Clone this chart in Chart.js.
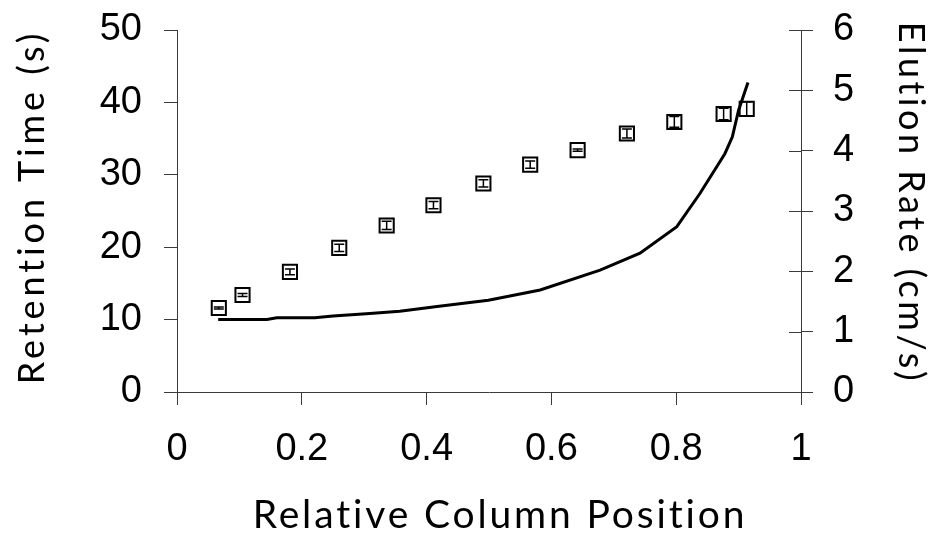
<!DOCTYPE html>
<html>
<head>
<meta charset="utf-8">
<script src="https://cdn.jsdelivr.net/npm/chart.js@4.4.1/dist/chart.umd.min.js"></script>
<style>
  html, body { margin: 0; padding: 0; background: #fff; }
  #wrap { width: 945px; height: 538px; }
</style>
</head>
<body>
<div id="wrap"><canvas id="chart"></canvas></div>
<script>
// retention time measurements (squares with error bars, left axis)
const positions = [0.067, 0.105, 0.181, 0.260, 0.336, 0.411, 0.491, 0.566, 0.642, 0.721, 0.797, 0.876, 0.913];
const retentionTimes = [11.6, 13.4, 16.6, 19.9, 23.0, 25.8, 28.8, 31.4, 33.4, 35.7, 37.3, 38.4, 39.1];
const retentionErrors = [0.15, 0.2, 0.4, 0.5, 0.57, 0.5, 0.5, 0.5, 0.15, 0.62, 0.74, 0.8, 1.0];

// elution rate curve (line, right axis)
const ratePositions = [0.066, 0.144, 0.160, 0.221, 0.250, 0.309, 0.357, 0.420, 0.499, 0.582, 0.678, 0.742, 0.801, 0.838, 0.878, 0.890, 0.900, 0.915];
const elutionRates = [1.20, 1.20, 1.23, 1.23, 1.26, 1.30, 1.34, 1.42, 1.52, 1.69, 2.02, 2.30, 2.74, 3.29, 3.95, 4.23, 4.67, 5.13];

// tick labels
const xTickLabels = ['0', '0.2', '0.4', '0.6', '0.8', '1'];
const leftTickLabels = ['0', '10', '20', '30', '40', '50'];
const rightTickLabels = ['0', '1', '2', '3', '4', '5', '6'];

const xTitle = 'Relative Column Position';
const leftTitle = 'Retention Time (s)';
const rightTitle = 'Elution Rate (cm/s)';

const axisColor = '#3a3a3a';
const tickFont = 'Liberation Sans, Arial, sans-serif';
const titleFont = 'Lato, sans-serif';

// error bars for the squares, inner ticks of the right axis, axis titles
const extras = {
    id: 'extras',
    afterDatasetsDraw(chart) {
        const ctx = chart.ctx;
        const xs = chart.scales.x;
        const ys = chart.scales.y;
        ctx.save();
        ctx.strokeStyle = '#000';
        ctx.lineWidth = 1.5;
        for (let i = 0; i < positions.length; i++) {
            const px = xs.getPixelForValue(positions[i]);
            const top = ys.getPixelForValue(retentionTimes[i] + retentionErrors[i]);
            const bot = ys.getPixelForValue(retentionTimes[i] - retentionErrors[i]);
            ctx.beginPath();
            ctx.moveTo(px, top);
            ctx.lineTo(px, bot);
            ctx.moveTo(px - 5, top);
            ctx.lineTo(px + 5, top);
            ctx.moveTo(px - 5, bot);
            ctx.lineTo(px + 5, bot);
            ctx.stroke();
        }
        ctx.restore();
    },
    afterDraw(chart) {
        const ctx = chart.ctx;
        const area = chart.chartArea;
        const y1 = chart.scales.y1;
        ctx.save();
        ctx.strokeStyle = axisColor;
        ctx.lineWidth = 1;
        y1.ticks.forEach(t => {
            const py = Math.round(y1.getPixelForValue(t.value)) + 0.5;
            ctx.beginPath();
            ctx.moveTo(area.right - 12, py);
            ctx.lineTo(area.right, py);
            ctx.stroke();
        });

        // axis titles: size from cap height, spacing stretched to the target width
        ctx.fillStyle = '#000';
        ctx.textAlign = 'center';
        ctx.textBaseline = 'alphabetic';
        const fit = (text, width, size) => {
            ctx.font = size + 'px ' + titleFont;
            ctx.letterSpacing = '0px';
            const w = ctx.measureText(text).width;
            ctx.letterSpacing = ((width - w) / text.length).toFixed(2) + 'px';
        };
        fit(xTitle, 496, 39);
        ctx.fillText(xTitle, (area.left + area.right) / 2 + 11, area.bottom + 136);

        ctx.save();
        fit(leftTitle, 355, 36);
        ctx.translate(44, (area.top + area.bottom) / 2 - 4);
        ctx.rotate(-Math.PI / 2);
        ctx.fillText(leftTitle, 0, 0);
        ctx.restore();

        ctx.save();
        fit(rightTitle, 363, 36);
        ctx.translate(area.right + 98, (area.top + area.bottom) / 2 - 8);
        ctx.rotate(Math.PI / 2);
        ctx.fillText(rightTitle, 0, 0);
        ctx.restore();
        ctx.restore();
    }
};

// keep the plot area fixed: no extra room for half tick labels
const noScalePad = s => {
    s.paddingTop = 0;
    s.paddingBottom = 0;
    s.paddingLeft = 0;
    s.paddingRight = 0;
};

const squares = positions.map((x, i) => ({ x: x, y: retentionTimes[i] }));
const curve = ratePositions.map((x, i) => ({ x: x, y: elutionRates[i] }));

new Chart(document.getElementById('chart'), {
    type: 'scatter',
    data: {
        datasets: [
            {
                label: 'Retention Time',
                data: squares,
                yAxisID: 'y',
                showLine: false,
                pointStyle: 'rect',
                pointRadius: 10,
                pointBorderWidth: 2,
                borderColor: '#000',
                backgroundColor: 'rgba(255,255,255,0)'
            },
            {
                label: 'Elution Rate',
                data: curve,
                yAxisID: 'y1',
                showLine: true,
                borderColor: '#000',
                borderWidth: 3,
                pointRadius: 0,
                tension: 0
            }
        ]
    },
    options: {
        responsive: true,
        maintainAspectRatio: false,
        animation: false,
        devicePixelRatio: 1,
        layout: { padding: { top: 30, left: 0, right: 0, bottom: 0 } },
        plugins: {
            legend: { display: false },
            tooltip: { enabled: false }
        },
        scales: {
            x: {
                type: 'linear',
                min: 0,
                max: 1,
                ticks: {
                    stepSize: 0.2,
                    padding: 22,
                    color: '#000',
                    font: { family: tickFont, size: 38 },
                    maxRotation: 0,
                    callback: (v, i) => xTickLabels[i]
                },
                grid: { drawOnChartArea: false, tickLength: 13, color: axisColor },
                border: { color: axisColor, width: 1 },
                afterFit: s => { s.height = 146; noScalePad(s); }
            },
            y: {
                position: 'left',
                min: 0,
                max: 50,
                ticks: {
                    stepSize: 10,
                    padding: 22,
                    color: '#000',
                    font: { family: tickFont, size: 38 },
                    callback: (v, i) => leftTickLabels[i]
                },
                grid: { drawOnChartArea: false, tickLength: 13, color: axisColor },
                border: { color: axisColor, width: 1 },
                afterFit: s => { s.width = 177; noScalePad(s); }
            },
            y1: {
                position: 'right',
                min: 0,
                max: 6,
                ticks: {
                    stepSize: 1,
                    padding: 20,
                    color: '#000',
                    font: { family: tickFont, size: 38 },
                    callback: (v, i) => rightTickLabels[i]
                },
                grid: { drawOnChartArea: false, tickLength: 12, color: axisColor },
                border: { color: axisColor, width: 1 },
                afterFit: s => { s.width = 144; noScalePad(s); }
            }
        }
    },
    plugins: [extras]
});
</script>
</body>
</html>
